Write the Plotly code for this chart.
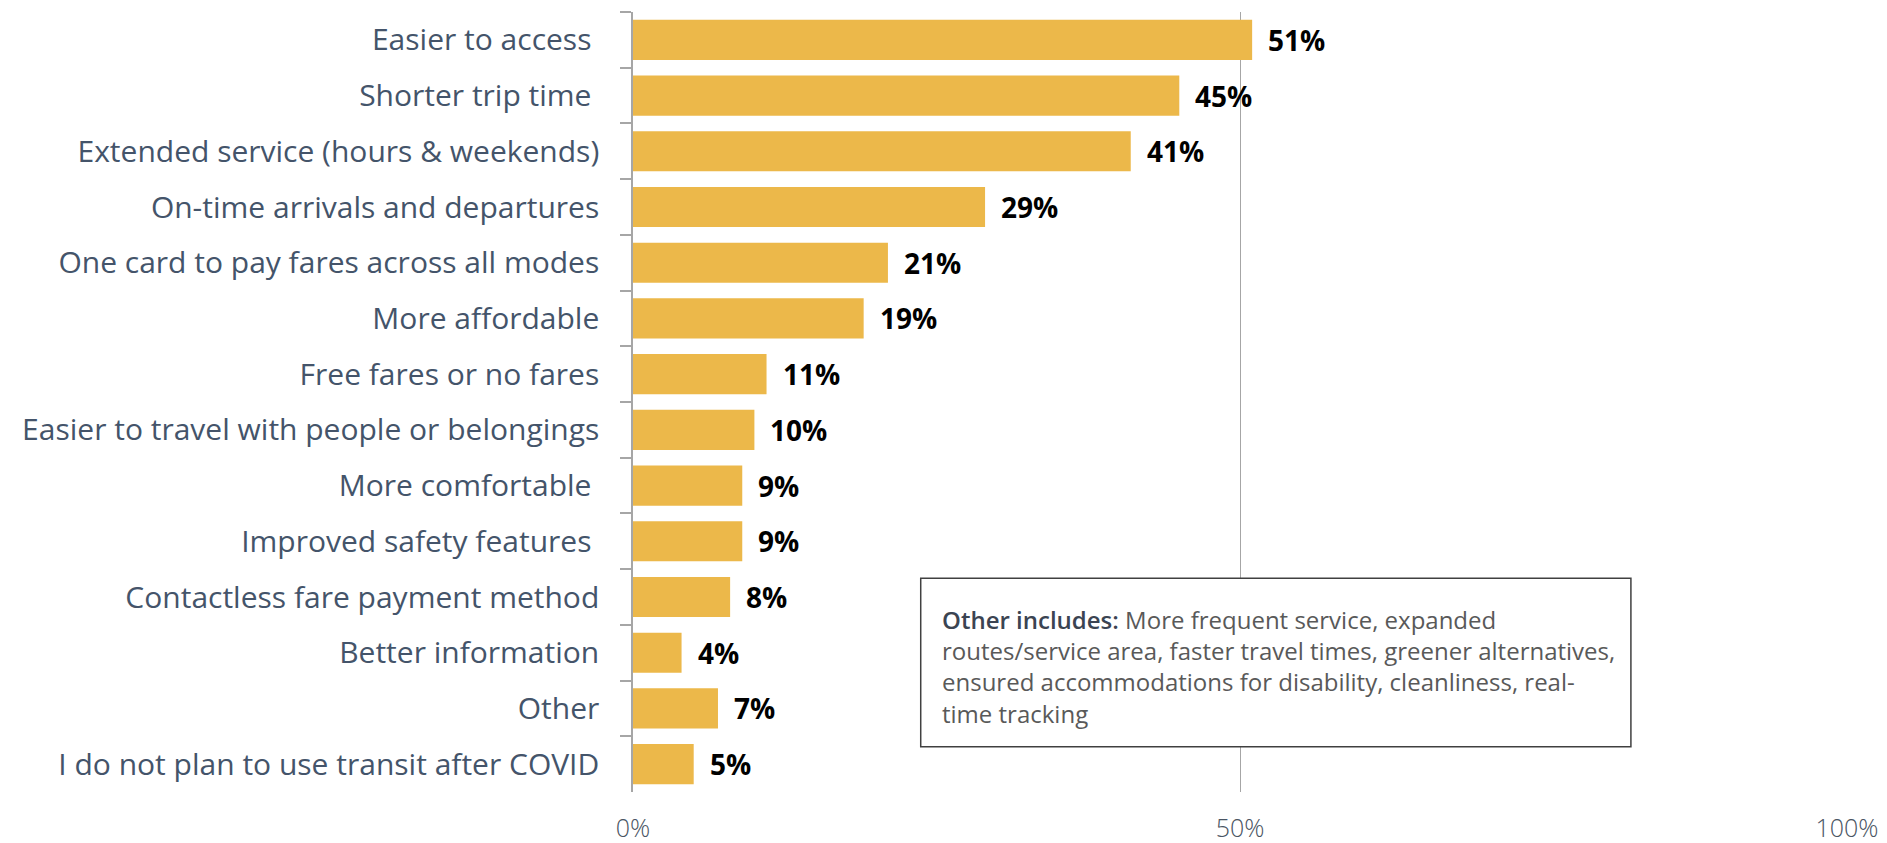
import plotly.graph_objects as go

# Survey results: what would make transit more appealing after COVID
categories = [
    "Easier to access\u00a0",
    "Shorter trip time\u00a0",
    "Extended service (hours & weekends)",
    "On-time arrivals and departures",
    "One card to pay fares across all modes",
    "More affordable",
    "Free fares or no fares",
    "Easier to travel with people or belongings",
    "More comfortable\u00a0",
    "Improved safety features\u00a0",
    "Contactless fare payment method",
    "Better information",
    "Other",
    "I do not plan to use transit after COVID",
]
values = [51, 45, 41, 29, 21, 19, 11, 10, 9, 9, 8, 4, 7, 5]

x_ticks = [0, 50, 100]
x_tick_labels = ["0%", "50%", "100%"]

BAR_COLOR = "#ECB84A"
LABEL_COLOR = "#44546A"
GRID_COLOR = "#A6A6A6"
FONT = "Open Sans, Segoe UI, sans-serif"

fig = go.Figure(
    go.Bar(
        x=values,
        y=categories,
        orientation="h",
        marker=dict(color=BAR_COLOR, line=dict(width=0)),
        hoverinfo="skip",
    )
)

# Bold value labels just to the right of each bar
for cat, v in zip(categories, values):
    fig.add_annotation(
        x=v,
        y=cat,
        xref="x",
        yref="y",
        text=f"<b>{v}%</b>",
        showarrow=False,
        xanchor="left",
        yanchor="middle",
        xshift=14,
        font=dict(family=FONT, size=28, color="#000000"),
    )

# Note box describing the "Other" responses
fig.add_shape(
    type="rect",
    xref="x",
    yref="paper",
    x0=23.7,
    x1=82.2,
    y0=0.058,
    y1=0.274,
    line=dict(color="#404040", width=1.5),
    fillcolor="white",
    layer="above",
)
note_text = (
    "<span style='color:#3B4452;font-weight:600'>Other includes:</span> More frequent service, expanded<br>"
    "routes/service area, faster travel times, greener alternatives,<br>"
    "ensured accommodations for disability, cleanliness, real-<br>"
    "time tracking"
)
fig.add_annotation(
    x=25.3,
    y=0.245,
    xref="x",
    yref="paper",
    text=note_text,
    showarrow=False,
    xanchor="left",
    yanchor="top",
    align="left",
    font=dict(family=FONT, size=24, color="#595959"),
)

fig.update_layout(
    width=1887,
    height=843,
    margin=dict(l=633, r=40, t=12, b=51),
    plot_bgcolor="white",
    paper_bgcolor="white",
    bargap=0.28,
    showlegend=False,
    font=dict(family=FONT),
)

fig.update_xaxes(
    range=[0, 100],
    tickvals=x_ticks,
    ticktext=x_tick_labels,
    showgrid=True,
    gridcolor=GRID_COLOR,
    gridwidth=1.2,
    zeroline=False,
    showline=False,
    ticks="outside",
    ticklen=14,
    tickcolor="rgba(0,0,0,0)",
    automargin=False,
    tickfont=dict(family=FONT, size=25, color="#4A5563", weight=300),
)

fig.update_yaxes(
    autorange="reversed",
    automargin=False,
    showgrid=False,
    zeroline=False,
    showline=True,
    linecolor=GRID_COLOR,
    linewidth=1.5,
    ticks="outside",
    tickson="boundaries",
    ticklen=11,
    tickcolor=GRID_COLOR,
    tickwidth=1.5,
    ticklabelstandoff=26,
    tickfont=dict(family=FONT, size=30, color=LABEL_COLOR),
)

fig.write_html("out.html")
